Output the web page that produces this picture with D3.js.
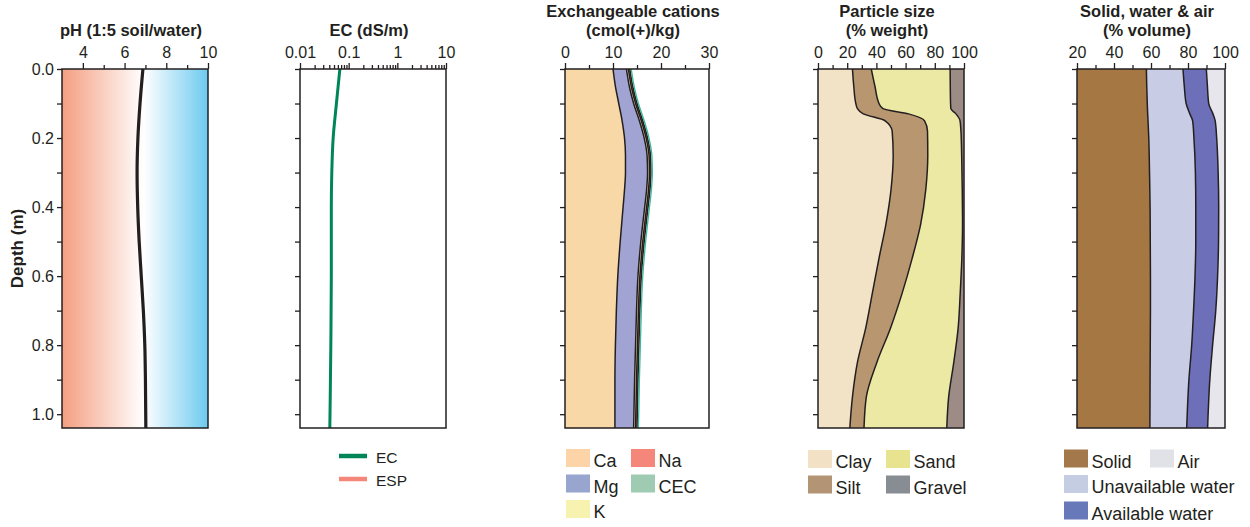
<!DOCTYPE html>
<html>
<head>
<meta charset="utf-8">
<script src="https://cdn.jsdelivr.net/npm/d3@7"></script>
<style>
  body { margin: 0; background: #fff; }
  text { font-family: "Liberation Sans", Arial, sans-serif; fill: #231f20; }
</style>
</head>
<body>
<script>
// ---- data ----
const phDepth = [0, 0.1, 0.2, 0.3, 0.4, 0.5, 0.6, 0.7, 0.8, 0.9, 1.04];
const phValues = [6.88, 6.74, 6.64, 6.6, 6.63, 6.7, 6.8, 6.9, 6.97, 7.0, 7.02];

const ecDepth = [0, 0.1, 0.2, 0.3, 0.4, 0.6, 0.8, 1.04];
const ecValues = [0.066, 0.056, 0.048, 0.045, 0.044, 0.044, 0.043, 0.041];

const catDepth = [0, 0.05, 0.1, 0.15, 0.2, 0.25, 0.3, 0.35, 0.4, 0.5, 0.6, 0.7, 0.8, 0.9, 1.04];
const caValues = [10.0, 10.5, 11.2, 11.9, 12.4, 12.6, 12.6, 12.4, 12.1, 11.5, 11.0, 10.7, 10.5, 10.4, 10.4];
const mgValues = [2.8, 2.9, 3.1, 3.6, 4.1, 4.5, 4.6, 4.6, 4.5, 4.3, 4.2, 4.2, 4.2, 4.1, 3.9];
const kValues = [0.4, 0.4, 0.4, 0.4, 0.4, 0.4, 0.4, 0.4, 0.4, 0.4, 0.4, 0.4, 0.4, 0.4, 0.4];
const naValues = [0.3, 0.3, 0.3, 0.3, 0.3, 0.3, 0.3, 0.3, 0.3, 0.3, 0.3, 0.3, 0.3, 0.3, 0.3];
const cecValues = [13.8, 14.4, 15.3, 16.5, 17.5, 18.1, 18.2, 18.0, 17.6, 16.8, 16.2, 15.9, 15.7, 15.5, 15.3];

const psDepth = [0, 0.05, 0.1, 0.115, 0.13, 0.15, 0.18, 0.25, 0.35, 0.45, 0.55, 0.65, 0.75, 0.85, 0.95, 1.04];
const clayValues = [23.6, 24.5, 25.9, 27.0, 31.0, 46.0, 50.8, 51.5, 50.0, 46.5, 41.7, 37.2, 32.7, 27.0, 23.6, 21.8];
const siltValues = [12.9, 14.5, 15.9, 17.5, 31.0, 27.0, 24.2, 23.7, 23.8, 23.8, 22.7, 20.4, 17.0, 13.3, 9.5, 9.7];
const sandValues = [54.0, 51.6, 49.0, 46.5, 32.5, 24.3, 22.9, 23.2, 25.0, 28.7, 34.1, 39.8, 46.3, 52.7, 56.4, 56.7];
const gravelValues = [9.5, 9.4, 9.2, 9.0, 5.5, 2.7, 2.1, 1.6, 1.2, 1.0, 1.5, 2.6, 4.0, 7.0, 10.5, 11.8];

const swaDepth = [0, 0.05, 0.1, 0.13, 0.15, 0.2, 0.3, 0.4, 0.5, 0.6, 0.7, 0.8, 0.9, 1.04];
const solidValues = [57.5, 57.7, 58.0, 58.2, 58.4, 58.8, 59.2, 59.5, 59.6, 59.7, 59.7, 59.6, 59.5, 59.4];
const unavailValues = [19.8, 20.3, 21.0, 22.8, 24.1, 24.4, 24.8, 24.7, 24.6, 24.1, 23.3, 22.4, 21.0, 19.9];
const availValues = [12.6, 12.5, 12.2, 12.5, 12.2, 12.3, 12.3, 12.4, 12.3, 12.2, 12.0, 11.3, 11.3, 11.3];
const airValues = [10.1, 9.5, 8.8, 6.5, 5.3, 4.5, 3.7, 3.4, 3.5, 4.0, 5.0, 6.7, 8.2, 9.4];

const depthTicks = [0, 0.1, 0.2, 0.3, 0.4, 0.5, 0.6, 0.7, 0.8, 0.9, 1.0];

const ink = "#231f20";
const svg = d3.select("body").append("svg").attr("width", 1250).attr("height", 527);
const defs = svg.append("defs");

const y = d3.scaleLinear().domain([0, 1.04]).range([69, 428]);

// panel frame, title, axes; returns clipped group
function panel(id, x, titles, majors, minors, fmt, yLabels) {
    const [x0, x1] = x.range();
    const cx = (x0 + x1) / 2 - 4;
    titles.forEach((t, i) => {
        svg.append("text").attr("x", cx).attr("y", titles.length === 1 ? 36 : 17 + i * 18.5)
            .attr("text-anchor", "middle").attr("font-size", 16.5).attr("font-weight", "bold").text(t);
    });

    defs.append("clipPath").attr("id", id).append("rect")
        .attr("x", x0).attr("y", y(0)).attr("width", x1 - x0).attr("height", y(1.04) - y(0));
    const body = svg.append("g").attr("clip-path", `url(#${id})`);

    // top axis
    const top = svg.append("g").attr("transform", `translate(0,${y(0)})`);
    top.call(d3.axisTop(x).tickValues(majors).tickSize(6).tickPadding(5).tickFormat(fmt));
    if (minors.length) {
        top.append("g").call(d3.axisTop(x).tickValues(minors).tickSize(4).tickFormat(""));
    }
    top.selectAll(".domain").remove();
    top.selectAll("line").attr("stroke", ink).attr("stroke-width", 1.3);
    top.selectAll("text").attr("font-size", 16).attr("font-family", null).attr("fill", ink);

    // left axis
    const left = svg.append("g").attr("transform", `translate(${x0},0)`);
    left.call(d3.axisLeft(y).tickValues(depthTicks).tickSize(5).tickPadding(3)
        .tickFormat(d => (yLabels && Math.round(d * 10) % 2 === 0) ? d.toFixed(1) : ""));
    left.selectAll(".domain").remove();
    left.selectAll("line").attr("stroke", ink).attr("stroke-width", 1.3);
    left.selectAll("text").attr("font-size", 16).attr("font-family", null).attr("fill", ink);

    return {body, x0, x1};
}

function frame(p) {
    svg.append("rect").attr("x", p.x0).attr("y", y(0)).attr("width", p.x1 - p.x0)
        .attr("height", y(1.04) - y(0)).attr("fill", "none").attr("stroke", ink).attr("stroke-width", 1.5);
}

function stacked(p, x, depth, keys, series, colors, outline) {
    const rows = depth.map((d, i) => {
        const r = {depth: d};
        keys.forEach((k, j) => r[k] = series[j][i]);
        return r;
    });
    const layers = d3.stack().keys(keys)(rows);
    const area = d3.area().curve(d3.curveMonotoneY)
        .y(d => y(d.data.depth)).x0(d => x(d[0])).x1(d => x(d[1]));
    p.body.selectAll(null).data(layers).enter().append("path")
        .attr("d", area).attr("fill", (d, i) => colors[i]);
    const edge = d3.line().curve(d3.curveMonotoneY).y(d => y(d.data.depth)).x(d => x(d[1]));
    p.body.selectAll(null).data(layers.slice(0, outline)).enter().append("path")
        .attr("d", edge).attr("fill", "none").attr("stroke", ink).attr("stroke-width", 1.5);
}

function legendBoxes(items) {
    items.forEach(it => {
        svg.append("rect").attr("x", it.x).attr("y", it.y).attr("width", 24).attr("height", 18).attr("fill", it.color);
        svg.append("text").attr("x", it.x + 27.5).attr("y", it.y + 18).attr("font-size", 18).text(it.label);
    });
}

// ---- pH ----
const xPh = d3.scaleLinear().domain([3, 10]).range([62, 208]);
const grad = defs.append("linearGradient").attr("id", "phGrad");
grad.append("stop").attr("offset", "0%").attr("stop-color", "#f49e81");
grad.append("stop").attr("offset", "56%").attr("stop-color", "#ffffff");
grad.append("stop").attr("offset", "100%").attr("stop-color", "#6ccaf0");
const p1 = panel("c1", xPh, ["pH (1:5 soil/water)"], [4, 6, 8, 10], [5, 7, 9], d3.format("d"), true);
p1.body.append("rect").attr("x", p1.x0).attr("y", y(0)).attr("width", p1.x1 - p1.x0)
    .attr("height", y(1.04) - y(0)).attr("fill", "url(#phGrad)");
p1.body.append("path").datum(phDepth.map((d, i) => [phValues[i], d]))
    .attr("d", d3.line().curve(d3.curveMonotoneY).x(d => xPh(d[0])).y(d => y(d[1])))
    .attr("fill", "none").attr("stroke", ink).attr("stroke-width", 3.2);
frame(p1);
svg.append("text").attr("transform", `translate(23,${(y(0) + y(1.04)) / 2}) rotate(-90)`)
    .attr("text-anchor", "middle").attr("font-size", 17).attr("font-weight", "bold").text("Depth (m)");

// ---- EC ----
const xEc = d3.scaleLog().domain([0.01, 10]).range([300, 446]);
const ecMinor = [];
[0.01, 0.1, 1].forEach(b => { for (let k = 2; k <= 9; k++) ecMinor.push(b * k); });
const p2 = panel("c2", xEc, ["EC (dS/m)"], [0.01, 0.1, 1, 10], ecMinor, d => String(d), false);
p2.body.append("path").datum(ecDepth.map((d, i) => [ecValues[i], d]))
    .attr("d", d3.line().curve(d3.curveMonotoneY).x(d => xEc(d[0])).y(d => y(d[1])))
    .attr("fill", "none").attr("stroke", "#00845a").attr("stroke-width", 3);
frame(p2);
[["EC", "#00845a", 456], ["ESP", "#f4877a", 479]].forEach(([lab, col, ly]) => {
    svg.append("line").attr("x1", 339).attr("x2", 367).attr("y1", ly).attr("y2", ly)
        .attr("stroke", col).attr("stroke-width", 4.5);
    svg.append("text").attr("x", 376).attr("y", ly + 6.5).attr("font-size", 15.5).text(lab);
});

// ---- Exchangeable cations ----
const xCat = d3.scaleLinear().domain([0, 30]).range([565, 709]);
const p3 = panel("c3", xCat, ["Exchangeable cations", "(cmol(+)/kg)"], [0, 10, 20, 30], [5, 15, 25], d3.format("d"), false);
stacked(p3, xCat, catDepth, ["Ca", "Mg", "K", "Na"], [caValues, mgValues, kValues, naValues],
    ["#f9d8a8", "#a1a4d3", "#f6f0b8", "#f28a7a"], 4);
p3.body.append("path").datum(catDepth.map((d, i) => [cecValues[i], d]))
    .attr("d", d3.line().curve(d3.curveMonotoneY).x(d => xCat(d[0])).y(d => y(d[1])))
    .attr("fill", "none").attr("stroke", "#3bb89a").attr("stroke-width", 1.3);
frame(p3);
legendBoxes([
    {x: 566, y: 449, color: "#fdd3a8", label: "Ca"},
    {x: 631, y: 449, color: "#f4877a", label: "Na"},
    {x: 566, y: 474.5, color: "#98a5cf", label: "Mg"},
    {x: 631, y: 474.5, color: "#9ecbb1", label: "CEC"},
    {x: 566, y: 500, color: "#f8f2b0", label: "K"}
]);

// ---- Particle size ----
const xPs = d3.scaleLinear().domain([0, 100]).range([818, 964]);
const p4 = panel("c4", xPs, ["Particle size", "(% weight)"], [0, 20, 40, 60, 80, 100], [10, 30, 50, 70, 90], d3.format("d"), false);
stacked(p4, xPs, psDepth, ["Clay", "Silt", "Sand", "Gravel"], [clayValues, siltValues, sandValues, gravelValues],
    ["#f2e3c6", "#b8966f", "#ebe9a3", "#9d8c86"], 3);
frame(p4);
legendBoxes([
    {x: 808, y: 450, color: "#f2e1c4", label: "Clay"},
    {x: 886, y: 450, color: "#e8e38f", label: "Sand"},
    {x: 808, y: 475.5, color: "#b39575", label: "Silt"},
    {x: 886, y: 475.5, color: "#878d92", label: "Gravel"}
]);

// ---- Solid, water & air ----
const xSwa = d3.scaleLinear().domain([20, 100]).range([1077, 1225]);
const p5 = panel("c5", xSwa, ["Solid, water & air", "(% volume)"], [20, 40, 60, 80, 100], [30, 50, 70, 90], d3.format("d"), false);
stacked(p5, xSwa, swaDepth, ["Solid", "Unavailable", "Available", "Air"], [solidValues, unavailValues, availValues, airValues],
    ["#a57843", "#c9cce5", "#6d70b8", "#e6e6ec"], 3);
frame(p5);
legendBoxes([
    {x: 1064, y: 449.5, color: "#a3784a", label: "Solid"},
    {x: 1150, y: 449.5, color: "#e1e1e8", label: "Air"},
    {x: 1064, y: 475, color: "#c5cde2", label: "Unavailable water"},
    {x: 1064, y: 501.5, color: "#6779b8", label: "Available water"}
]);
</script>
</body>
</html>
